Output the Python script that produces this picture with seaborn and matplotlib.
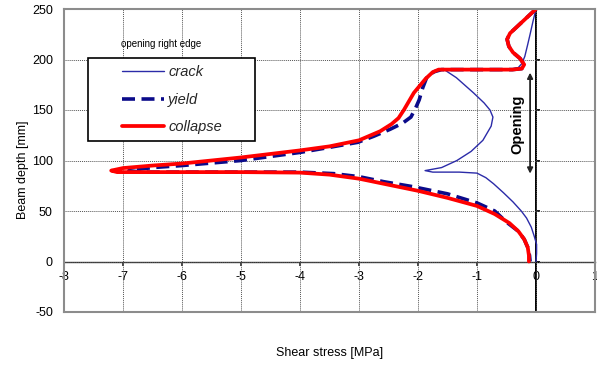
import matplotlib
matplotlib.use("Agg")
import matplotlib.pyplot as plt
import pandas as pd
import seaborn as sns
from matplotlib.lines import Line2D
from matplotlib.legend_handler import HandlerLine2D

# Shear stress [MPa] against beam depth [mm] at the right edge of the opening
crack_x = [0.0, -0.05, -0.10, -0.14, -0.19, -0.24, -0.30, -0.40, -1.00, -1.57,
           -1.35, -1.06, -0.88, -0.78, -0.73, -0.76, -0.90, -1.10, -1.34, -1.60,
           -1.88, -1.75, -1.30, -1.00, -0.85, -0.72, -0.55, -0.39, -0.25, -0.16,
           -0.08, -0.03, 0.01, 0.01, 0.0]
crack_y = [250, 238, 225, 215, 203, 196, 192, 190.5, 190.5, 190.5,
           182, 167, 157, 150, 143, 134, 120, 109, 100, 93,
           90, 88.5, 88.5, 87.5, 83, 77, 68, 59, 50, 43,
           34, 25, 17, 8, 0]

yield_x = [0.0, -0.22, -0.44, -0.49, -0.46, -0.39, -0.27, -0.20, -0.24, -0.40,
           -1.00, -1.60, -1.72, -1.84, -1.92, -1.98, -2.04, -2.12, -2.26, -2.47,
           -2.75, -3.02, -3.60, -4.00, -4.50, -5.00, -5.50, -6.00, -6.50, -6.90,
           -6.70, -5.00, -4.00, -3.43, -3.00, -2.58, -2.08, -1.50, -1.00, -0.70,
           -0.50, -0.30, -0.20, -0.14, -0.11, -0.10]
yield_y = [250, 238, 226, 220, 213, 207, 201, 195, 191, 190,
           190, 190, 188, 184, 172, 160, 152, 143, 137, 131,
           124, 118, 112, 108, 104, 100, 97.5, 95, 93, 90,
           88.5, 88.5, 88.5, 87, 84, 79, 74, 67, 58, 50,
           39, 30, 22, 14, 6, 0]

collapse_x = [0.0, -0.22, -0.44, -0.49, -0.46, -0.39, -0.27, -0.20, -0.24, -0.40,
              -0.80, -1.30, -1.65, -1.75, -1.87, -1.97, -2.07, -2.16, -2.24, -2.33,
              -2.45, -2.64, -3.00, -3.50, -4.00, -4.50, -5.00, -5.50, -6.00, -6.50,
              -7.00, -7.20, -7.10, -6.50, -5.00, -4.00, -3.50, -3.00, -2.50, -2.00,
              -1.50, -1.00, -0.70, -0.45, -0.30, -0.20, -0.14, -0.12, -0.12]
collapse_y = [250, 238, 226, 220, 213, 207, 201, 195, 191, 190,
              190, 190, 190, 187.5, 181, 174, 167, 158, 150, 142,
              136, 129, 120, 114, 110, 106.5, 103, 100, 97, 95,
              92.5, 90, 88.5, 88.5, 88.5, 88, 86, 82, 76, 70,
              63, 55, 47, 38, 30, 22, 14, 6, 0]

series_names = ["crack", "yield", "collapse"]
x_ticks = [-8, -7, -6, -5, -4, -3, -2, -1, 0, 1]
y_ticks = [-50, 0, 50, 100, 150, 200, 250]

frames = []
for name, xs, ys in zip(series_names, [crack_x, yield_x, collapse_x],
                        [crack_y, yield_y, collapse_y]):
    frames.append(pd.DataFrame({"stress": xs, "depth": ys, "series": name}))
df = pd.concat(frames, ignore_index=True)

sns.set_theme(style="white")
plt.rcParams["font.family"] = ["Liberation Sans", "DejaVu Sans"]
plt.rcParams["axes.unicode_minus"] = False

fig = plt.figure(figsize=(5.97, 3.65), dpi=100)
fig.patch.set_facecolor("white")
ax = fig.add_axes([64 / 597, 1 - 312 / 365, 531 / 597, 303 / 365])

styles = {
    "crack": dict(color="#2b2ba8", linewidth=1.0, linestyle="-"),
    "yield": dict(color="#0b0b8a", linewidth=2.6, linestyle=(0, (3.6, 1.8))),
    "collapse": dict(color="#ff0000", linewidth=2.7, linestyle="-"),
}
for name in series_names:
    sub = df[df["series"] == name]
    sns.lineplot(data=sub, x="stress", y="depth", sort=False, estimator=None,
                 ax=ax, label=name, **styles[name])

ax.set_xlim(-8, 1)
ax.set_ylim(-50, 250)
ax.set_xticks(x_ticks)
ax.set_yticks(y_ticks)
ax.grid(True, color="#555555", linestyle=(0, (1, 1)), linewidth=0.7)
ax.tick_params(axis="x", length=0, labelbottom=False)
ax.tick_params(axis="y", length=0, pad=8, labelsize=9, labelcolor="black")
for side in ["left", "right", "top", "bottom"]:
    ax.spines[side].set_visible(True)
    ax.spines[side].set_color("#8c8c8c")
    ax.spines[side].set_linewidth(1.5)

# x axis running along zero depth
sx = ax.secondary_xaxis(1 / 6)
sx.set_xticks(x_ticks)
sx.set_xticklabels([str(t) for t in x_ticks])
sx.tick_params(direction="out", length=3, pad=4, labelsize=9,
               color="#333333", labelcolor="black")
for side in ["top", "bottom"]:
    sx.spines[side].set_color("#333333")
    sx.spines[side].set_linewidth(1.0)

# vertical axis at zero stress
sy = ax.secondary_yaxis(8 / 9)
sy.set_yticks(y_ticks)
sy.tick_params(direction="out", length=3, labelright=False, labelleft=False,
               color="black")
for side in ["left", "right"]:
    sy.spines[side].set_color("black")
    sy.spines[side].set_linewidth(1.4)

ax.set_xlabel("Shear stress [MPa]", fontsize=9, color="black")
ax.xaxis.set_label_coords(0.5, -0.115)
ax.set_ylabel("Beam depth [mm]", fontsize=9, color="black")
ax.yaxis.set_label_coords(-0.065, 0.47)

handles, labels = ax.get_legend_handles_labels()
leg = ax.legend(handles, labels, loc="upper left",
                bbox_to_anchor=(0.0452, 0.5, 0.3145, 0.3383), mode="expand",
                borderaxespad=0, borderpad=0.5, labelspacing=0.92,
                handlelength=4.69, handletextpad=0.3, frameon=True,
                fancybox=False, edgecolor="black", facecolor="white",
                framealpha=1, prop=dict(style="italic", size=10.5),
                handler_map={Line2D: HandlerLine2D(xpad=1.86, marker_pad=0)})
leg.get_frame().set_linewidth(1.2)

ax.text(0.107, 0.8845, "opening right edge", transform=ax.transAxes,
        fontsize=7, ha="left", va="center", color="black")

ax.annotate("", xy=(-0.1, 187), xytext=(-0.1, 87),
            arrowprops=dict(arrowstyle="<|-|>", color="#222222", lw=1.3,
                            mutation_scale=8, shrinkA=0, shrinkB=0))
ax.text(-0.31, 136, "Opening", rotation=90, ha="center", va="center",
        fontsize=10.5, fontweight="bold", color="black")

fig.savefig("out.png", dpi=100, facecolor="white")
